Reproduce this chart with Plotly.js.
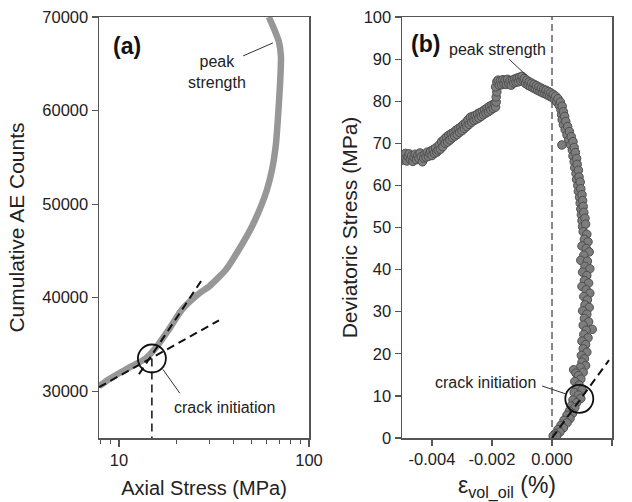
<!DOCTYPE html>
<html><head><meta charset="utf-8">
<script src="https://cdn.plot.ly/plotly-3.0.1.min.js"></script>
<style>html,body{margin:0;padding:0;background:#fff}#chart{width:632px;height:502px}</style>
</head><body><div id="chart"></div>
<script>
// Panel (a): cumulative AE counts vs axial stress
const stressA = [7.85, 8.86, 10.9, 13.87, 15.85, 18.3, 21.5, 26.4, 29.8, 36.6, 42.8, 50.1, 56.6, 60.1, 63.9, 67.0, 68.7, 70.4, 71.2, 69.5, 65.5, 61.5];
const countsA = [30530, 31280, 32350, 33520, 34800, 36610, 38750, 40450, 41200, 43010, 45150, 47600, 50050, 51550, 53680, 56450, 59330, 62850, 65730, 67330, 68720, 70000];
const tangent1X = [7.85, 33.6];
const tangent1Y = [30430, 37570];
const tangent2X = [12.74, 27.4];
const tangent2Y = [31810, 41950];
const ciStressA = 14.9;
const ciCountsA = 33500;

// Panel (b): deviatoric stress vs volumetric strain
const epsB = [
-0.00500,-0.00496,-0.00492,-0.00488,-0.00484,-0.00480,-0.00476,-0.00472,-0.00468,-0.00464,-0.00460,-0.00456,-0.00452,-0.00448,-0.00444,-0.00440,-0.00436,-0.00432,-0.00428,-0.00424,-0.00420,-0.00416,-0.00412,-0.00408,-0.00404,-0.00400,-0.00396,-0.00392,-0.00388,-0.00384,-0.00380,
-0.00376,-0.00372,-0.00368,-0.00364,-0.00360,-0.00356,-0.00352,-0.00348,-0.00344,-0.00340,-0.00336,-0.00332,-0.00328,-0.00324,-0.00320,-0.00316,-0.00312,-0.00308,-0.00304,-0.00300,-0.00296,-0.00292,-0.00288,-0.00284,-0.00280,-0.00276,-0.00272,-0.00268,-0.00264,-0.00260,-0.00256,-0.00252,-0.00248,-0.00244,-0.00240,-0.00236,-0.00232,-0.00228,-0.00224,-0.00220,-0.00216,-0.00212,-0.00208,-0.00204,-0.00200,-0.00196,-0.00192,-0.00188,-0.00186,
-0.00186,-0.00184,-0.00188,-0.00184,
-0.00180,-0.00176,-0.00172,-0.00168,-0.00164,-0.00160,-0.00156,-0.00152,-0.00148,-0.00144,-0.00140,-0.00136,-0.00132,-0.00128,-0.00124,-0.00120,-0.00116,-0.00112,-0.00108,-0.00104,-0.00100,-0.00096,-0.00092,-0.00088,-0.00084,-0.00080,-0.00076,-0.00072,-0.00068,-0.00064,-0.00060,-0.00056,-0.00052,-0.00048,-0.00044,-0.00040,-0.00036,-0.00032,-0.00028,-0.00024,-0.00020,-0.00016,-0.00012,-0.00008,-0.00004,0.00000,0.00004,0.00008,0.00012,0.00016,0.00020,0.00024,0.00028,0.00030,0.00034,0.00032,0.00038,0.00034,0.00042,0.00038,0.00046,0.00033,0.00044,0.00052,0.00050,0.00058,0.00056,0.00064,0.00062,0.00070,0.00068,0.00074,0.00070,0.00078,0.00074,0.00082,0.00076,0.00084,0.00080,0.00088,0.00082,0.00090,0.00086,0.00094,0.00088,0.00096,0.00092,0.00100,0.00094,0.00102,0.00096,0.00104,0.00098,0.00106,0.00100,0.00110,0.00102,0.00112,
0.00104,0.00116,0.00108,0.00120,0.00100,0.00114,0.00124,0.00106,0.00096,0.00118,0.00110,0.00126,0.00102,0.00116,0.00108,0.00122,0.00100,0.00114,0.00126,0.00106,0.00118,0.00110,0.00124,0.00102,0.00116,0.00108,0.00122,0.00104,0.00134,0.00114,0.00106,0.00120,0.00100,0.00112,0.00104,0.00116,0.00098,0.00108,0.00100,0.00112,0.00094,0.00072,0.00080,0.00104,0.00088,0.00096,0.00076,0.00090,0.00082,0.00100,0.00074,0.00088,0.00096,0.00070,0.00082,0.00064,0.00076,0.00058,0.00068,0.00050,0.00060,0.00040,0.00050,0.00030,0.00038,0.00020,0.00026,0.00010,0.00004,0.00016];
const devB = [
66.0,67.2,66.4,67.6,65.8,66.9,67.5,66.2,67.0,65.7,66.6,67.4,66.1,67.1,66.4,67.7,66.8,65.6,66.5,67.4,66.7,67.9,66.9,67.6,68.2,67.1,68.5,67.6,68.9,67.9,68.4,
69.6,68.6,70.4,69.2,70.9,70.0,71.5,70.3,71.9,70.8,72.3,71.3,72.6,71.7,73.1,72.1,73.5,72.6,73.9,73.0,74.4,73.5,74.9,74.0,75.6,74.5,76.2,75.0,76.4,75.4,76.6,75.7,77.0,76.0,77.3,76.4,77.6,76.8,78.0,77.2,78.4,77.5,78.8,77.9,79.1,78.3,79.4,78.6,79.8,
81.0,82.2,83.4,84.6,
85.0,83.8,84.9,83.9,85.1,84.1,85.0,84.0,85.2,84.2,84.9,83.8,85.0,84.3,85.3,84.5,85.5,84.6,85.7,84.8,85.9,85.0,85.4,84.2,85.0,83.8,84.6,83.5,84.3,83.2,84.0,82.9,83.7,82.6,83.4,82.3,83.1,82.0,82.8,81.8,82.6,81.5,82.3,81.2,82.0,80.9,81.6,80.4,81.2,79.8,80.6,79.0,79.8,78.0,78.8,76.8,77.5,75.6,76.4,74.4,75.2,69.6,73.2,74.0,72.0,72.8,70.8,71.6,69.6,70.4,68.4,69.0,67.0,67.8,65.6,66.4,64.2,65.0,62.8,63.6,61.4,62.0,60.0,60.8,58.6,59.2,57.2,57.8,55.8,56.4,54.4,55.0,53.0,53.6,51.6,52.2,50.2,50.8,
49.0,48.4,47.2,46.6,45.6,45.0,44.2,43.4,42.2,42.0,40.8,40.2,39.4,38.6,37.4,36.8,36.0,35.2,34.4,33.6,32.8,31.6,31.0,30.2,29.4,28.4,27.6,26.8,25.8,25.6,24.6,23.8,23.0,22.2,21.2,20.4,19.6,18.8,18.0,17.2,16.8,16.2,15.4,15.6,14.8,14.0,13.4,12.6,11.8,11.4,10.8,10.2,9.4,9.0,8.4,7.6,7.2,6.4,5.8,5.4,4.6,4.2,3.6,3.0,2.4,2.0,1.4,1.0,0.5,0.6];
const tangentBX = [0.0, 0.0019];
const tangentBY = [0.0, 18.5];
const zeroLineX = [0, 0];
const zeroLineY = [0, 100];
const ciEpsB = 0.00091;
const ciDevB = 9.3;

const xTickValsB = [-0.004, -0.002, 0, 0.002];
const xTickTextB = ['-0.004', '-0.002', '0.000', '0.002'];
const yTickValsB = [0, 10, 20, 30, 40, 50, 60, 70, 80, 90, 100];
const yTickValsA = [30000, 40000, 50000, 60000, 70000];
const yTickTextA = ['30000', '40000', '50000', '60000', '70000'];
const xTickValsA = [10, 100];
const xTickTextA = ['10', '100'];
const xMinorA = [8, 9, 20, 30, 40, 50, 60, 70, 80, 90];

const FONT = 'Liberation Sans, Arial, sans-serif';
const dashStyle = '8px,5px';

const traces = [
  {x: stressA, y: countsA, xaxis: 'x', yaxis: 'y', mode: 'lines', line: {color: '#979797', width: 6.5, shape: 'spline', smoothing: 0.6}, hoverinfo: 'skip'},
  {x: tangent1X, y: tangent1Y, xaxis: 'x', yaxis: 'y', mode: 'lines', line: {color: '#111', width: 2, dash: dashStyle}},
  {x: tangent2X, y: tangent2Y, xaxis: 'x', yaxis: 'y', mode: 'lines', line: {color: '#111', width: 2, dash: dashStyle}},
  {x: [ciStressA, ciStressA], y: [ciCountsA, 25000], xaxis: 'x', yaxis: 'y', mode: 'lines', line: {color: '#111', width: 1.5, dash: dashStyle}},
  {x: [ciStressA], y: [ciCountsA], xaxis: 'x', yaxis: 'y', mode: 'markers', marker: {symbol: 'circle-open', size: 28, color: '#111', line: {width: 1.8, color: '#111'}}},
  {x: zeroLineX, y: zeroLineY, xaxis: 'x2', yaxis: 'y2', mode: 'lines', line: {color: '#111', width: 1, dash: '7px,4px'}},
  {x: epsB, y: devB, xaxis: 'x2', yaxis: 'y2', mode: 'markers', marker: {size: 8.5, color: '#7d7d7d', line: {color: '#4e4e4e', width: 1}}},
  {x: tangentBX, y: tangentBY, xaxis: 'x2', yaxis: 'y2', mode: 'lines', line: {color: '#111', width: 2, dash: dashStyle}},
  {x: [ciEpsB], y: [ciDevB], xaxis: 'x2', yaxis: 'y2', mode: 'markers', marker: {symbol: 'circle-open', size: 28, color: '#111', line: {width: 1.8, color: '#111'}}}
];

const axisCommon = {
  showline: true, linecolor: '#555', linewidth: 1.5, mirror: true,
  ticks: 'outside', ticklen: 6, tickwidth: 1.2, tickcolor: '#555',
  showgrid: false, zeroline: false,
  tickfont: {family: FONT, size: 16.5, color: '#222'}
};

const layout = {
  width: 632, height: 502,
  margin: {l: 0, r: 0, t: 0, b: 0},
  paper_bgcolor: '#fff', plot_bgcolor: '#fff',
  showlegend: false,
  font: {family: FONT, color: '#222'},
  xaxis: Object.assign({}, axisCommon, {
    domain: [99/632, 309/632], anchor: 'y', type: 'log', range: [Math.log10(7.85), 2],
    tickmode: 'array', tickvals: xTickValsA, ticktext: xTickTextA, ticklen: 7,
    minor: {tickmode: 'array', tickvals: xMinorA, ticks: 'outside', ticklen: 4, tickcolor: '#555', tickwidth: 1},
    title: {text: 'Axial Stress (MPa)', font: {family: FONT, size: 20, color: '#222'}, standoff: 12}
  }),
  yaxis: Object.assign({}, axisCommon, {
    domain: [1 - 438/502, 1 - 17/502], anchor: 'x', range: [25000, 70000],
    tickmode: 'array', tickvals: yTickValsA, ticktext: yTickTextA,
    title: {text: 'Cumulative AE Counts', font: {family: FONT, size: 21, color: '#222'}, standoff: 12}
  }),
  xaxis2: Object.assign({}, axisCommon, {
    domain: [402/632, 612/632], anchor: 'y2', range: [-0.005, 0.002],
    tickmode: 'array', tickvals: xTickValsB, ticktext: xTickTextB,
    title: {text: 'ε<sub>vol_oil</sub> (%)', font: {family: FONT, size: 23, color: '#222'}, standoff: 12}
  }),
  yaxis2: Object.assign({}, axisCommon, {
    domain: [1 - 438/502, 1 - 17/502], anchor: 'x2', range: [0, 100],
    tickmode: 'array', tickvals: yTickValsB,
    title: {text: 'Deviatoric Stress (MPa)', font: {family: FONT, size: 21, color: '#222'}, standoff: 0}
  }),
  shapes: [
    {type: 'line', xref: 'x', yref: 'y', x0: 45.0, y0: 65840, x1: 64.6, y1: 67230, line: {color: '#333', width: 1}},
    {type: 'line', xref: 'x', yref: 'y', x0: 17.0, y0: 32350, x1: 20.9, y1: 29790, line: {color: '#333', width: 1}},
    {type: 'line', xref: 'x2', yref: 'y2', x0: -0.00143, y0: 90.0, x1: -0.00087, y1: 86.2, line: {color: '#333', width: 1}},
    {type: 'line', xref: 'x2', yref: 'y2', x0: -0.00033, y0: 12.35, x1: 0.00047, y1: 10.45, line: {color: '#333', width: 1}}
  ],
  annotations: [
    {xref: 'x', yref: 'y', x: Math.log10(11.0), y: 66900, text: '<b>(a)</b>', showarrow: false, font: {family: FONT, size: 23, color: '#111'}},
    {xref: 'x', yref: 'y', x: Math.log10(32.8), y: 64130, text: 'peak<br>strength', showarrow: false, font: {family: FONT, size: 16, color: '#222'}},
    {xref: 'x', yref: 'y', x: Math.log10(36.1), y: 28290, text: 'crack initiation', showarrow: false, font: {family: FONT, size: 16, color: '#222'}},
    {xref: 'x2', yref: 'y2', x: -0.00423, y: 93.6, text: '<b>(b)</b>', showarrow: false, font: {family: FONT, size: 23, color: '#111'}},
    {xref: 'x2', yref: 'y2', x: -0.00183, y: 92.2, text: 'peak strength', showarrow: false, font: {family: FONT, size: 16, color: '#222'}},
    {xref: 'x2', yref: 'y2', x: -0.00223, y: 13.3, text: 'crack initiation', showarrow: false, font: {family: FONT, size: 16, color: '#222'}}
  ]
};

Plotly.newPlot('chart', traces, layout, {displayModeBar: false, staticPlot: true});
</script>
</body></html>
